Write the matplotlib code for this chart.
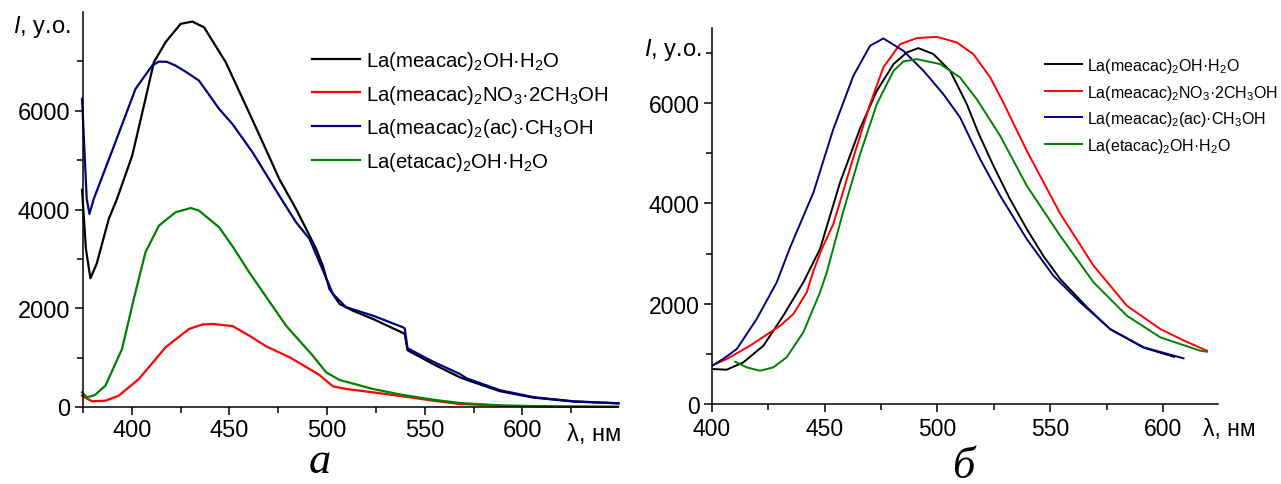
import matplotlib
matplotlib.use("Agg")
import matplotlib.pyplot as plt
from matplotlib.ticker import FixedLocator

# panel a (375-650 nm)
a_black_x = [374.5, 376.5, 378.8, 382, 388.2, 392.4, 400.2, 407, 411.3, 417.3, 425, 431, 437, 448.1,
             458.4, 467, 475.5, 484.1, 489.3, 494.4, 497.8, 501.2, 506.4, 513.2, 523.5, 538.9, 539.8,
             541.2, 554.3, 568, 571.5, 588.6, 605.7, 626.3, 649]
a_black_y = [4400, 3200, 2607, 2900, 3809, 4214, 5090, 6240, 6983, 7389, 7760, 7806, 7690, 6983,
             6105, 5363, 4619, 4011, 3606, 3201, 2863, 2391, 2087, 1951, 1783, 1499, 1470,
             1150, 870, 601, 550, 320, 190, 110, 75]

a_blue_x = [374.5, 376.9, 378.3, 380.5, 391.6, 401.9, 410.4, 413.9, 418, 422.4, 428, 434.4, 444.7,
            451.5, 461.8, 475.5, 484.1, 491, 496.1, 503, 509.8, 523.5, 538.9, 539.8, 541.2, 554.3,
            568, 571.5, 588.6, 605.7, 626.3, 649.4]
a_blue_y = [6240, 4214, 3910, 4214, 5363, 6443, 6915, 6996, 6990, 6915, 6780, 6611, 6037,
            5733, 5160, 4281, 3742, 3404, 2931, 2289, 2020, 1850, 1614, 1590, 1190, 918,
            669, 580, 340, 200, 115, 75]

a_red_x = [374.5, 379.6, 386.5, 393.3, 403.6, 417.3, 429.3, 436, 441.3, 451.5, 460, 468.7, 480.7,
           491, 496, 503, 509.8, 523.5, 538.9, 554.3, 568, 590, 620, 649]
a_red_y = [229, 115, 128, 229, 567, 1209, 1580, 1670, 1682, 1640, 1450, 1230, 1010,
           770, 650, 419, 365, 297, 216, 128, 61, 25, 8, 3]

a_green_x = [374.5, 377, 381, 386.5, 395, 401, 407, 413.9, 422.4, 430.2, 434.4, 444.7, 452, 460.1,
             479, 492.7, 499.5, 506.4, 523.5, 538.9, 554.3, 568, 590, 620, 649]
a_green_y = [298, 196, 240, 432, 1175, 2188, 3134, 3674, 3944, 4030, 3977, 3641, 3230, 2729,
             1647, 1039, 703, 547, 365, 243, 148, 81, 30, 10, 5]

# panel b (400-625 nm)
b_black_x = [400, 406.5, 413.9, 422.8, 431.6, 440.5, 447.9, 456.8, 465.7, 473.1, 480.5, 486.4, 491.5,
             498.2, 505.6, 513, 518, 524.8, 532, 539.6, 547, 554.4, 566.3, 576.6, 591.4, 605]
b_black_y = [698, 684, 831, 1163, 1761, 2427, 3091, 4421, 5500, 6247, 6780, 7013, 7099,
             6979, 6646, 5982, 5420, 4752, 4100, 3490, 2950, 2493, 1930, 1490, 1125, 940]

b_red_x = [400, 406.5, 416.9, 430.2, 436.1, 442, 445, 448.7, 453.8, 462.7, 470.1, 476, 483.4, 490.8,
           499.7, 508.6, 515.9, 523.4, 529, 539.6, 554.4, 569.2, 584, 598.8, 610, 619.5]
b_red_y = [764, 897, 1163, 1561, 1795, 2227, 2658, 3091, 3589, 4919, 5982, 6714, 7178, 7298,
           7324, 7212, 6979, 6514, 6030, 5050, 3800, 2758, 1960, 1496, 1250, 1063]

b_blue_x = [400, 405, 411, 419.8, 428.7, 434.6, 445, 453.8, 462.7, 470.1, 476, 484.9, 493.8, 502.6,
            510, 518.9, 527.8, 539.6, 551.4, 563.3, 576.6, 591.4, 609.1]
b_blue_y = [764, 900, 1097, 1695, 2427, 3120, 4221, 5484, 6546, 7145, 7292, 7045, 6646, 6181,
            5717, 4885, 4154, 3290, 2558, 2028, 1496, 1131, 911]

b_green_x = [410.2, 415.4, 421.3, 427.2, 433.1, 440.5, 447.9, 450.9, 458.3, 465.7, 473.1, 480.5,
             484.9, 490.8, 501.2, 510, 517.4, 527.8, 539.6, 554.4, 569.2, 584, 598.8, 616.5, 619.5]
b_green_y = [844, 731, 664, 731, 931, 1430, 2227, 2626, 3855, 4985, 5982, 6646,
             6833, 6879, 6780, 6514, 6081, 5350, 4353, 3356, 2427, 1761, 1330, 1063, 1043]

labels = [r"La(meacac)$_\mathregular{2}$OH·H$_\mathregular{2}$O",
          r"La(meacac)$_\mathregular{2}$NO$_\mathregular{3}$·2CH$_\mathregular{3}$OH",
          r"La(meacac)$_\mathregular{2}$(ac)·CH$_\mathregular{3}$OH",
          r"La(etacac)$_\mathregular{2}$OH·H$_\mathregular{2}$O"]
colors = ["black", "#ff0000", "#000080", "#008000"]

plt.rcParams["font.family"] = ["Liberation Sans", "DejaVu Sans"]
plt.rcParams["mathtext.fontset"] = "custom"
plt.rcParams["mathtext.rm"] = "Liberation Sans"
plt.rcParams["mathtext.it"] = "Liberation Sans:italic"

W, H = 1281, 485
fig = plt.figure(figsize=(W / 100, H / 100), dpi=100)
ax1 = fig.add_axes([83 / W, 1 - 408 / H, (618 - 83) / W, (408 - 13) / H])
ax2 = fig.add_axes([712 / W, 1 - 405 / H, (1218 - 712) / W, (405 - 29) / H])


def style(ax, xlim, ylim, xminor, fs):
    ax.set_xlim(*xlim)
    ax.set_ylim(*ylim)
    for s in ["top", "right"]:
        ax.spines[s].set_visible(False)
    for s in ["left", "bottom"]:
        ax.spines[s].set_linewidth(1.1)
    ax.yaxis.set_major_locator(FixedLocator([0, 2000, 4000, 6000]))
    ax.yaxis.set_minor_locator(FixedLocator([1000, 3000, 5000, 7000]))
    ax.xaxis.set_major_locator(FixedLocator([400, 450, 500, 550, 600]))
    ax.xaxis.set_minor_locator(FixedLocator(xminor))
    ax.tick_params(which="major", direction="out", length=6, width=1.1, labelsize=fs, pad=3)
    ax.tick_params(which="minor", direction="out", length=4, width=1.1)


# panel a
for xs, ys, c, lab in zip([a_black_x, a_red_x, a_blue_x, a_green_x],
                          [a_black_y, a_red_y, a_blue_y, a_green_y], colors, labels):
    ax1.plot(xs, ys, color=c, lw=1.6, label=lab, clip_on=False)
style(ax1, (375, 649), (0, 8000), [375, 425, 475, 525, 575, 625], 17)
ax1.legend(loc="upper left", bbox_to_anchor=(312 / W, 1 - 50 / H), bbox_transform=fig.transFigure,
           frameon=False, fontsize=14.7, handlelength=2.35, handletextpad=0.3,
           labelspacing=0.52, borderpad=0, borderaxespad=0)
ax1.text(-0.024, 0.965, r"$\mathit{I}$, у.о.", transform=ax1.transAxes, ha="right", va="center",
         fontsize=17)
fig.text(594 / W, 1 - 435 / H, "λ, нм", ha="center", va="center", fontsize=17)
fig.text(320 / W, 1 - 462 / H, "а", ha="center", va="center", fontsize=32,
         family="Liberation Serif", style="italic")

# panel b
for xs, ys, c, lab in zip([b_black_x, b_red_x, b_blue_x, b_green_x],
                          [b_black_y, b_red_y, b_blue_y, b_green_y], colors, labels):
    ax2.plot(xs, ys, color=c, lw=1.4, label=lab)
style(ax2, (400, 624.4), (0, 7500), [425, 475, 525, 575], 16.5)
ax2.legend(loc="upper left", bbox_to_anchor=(1045 / W, 1 - 57 / H), bbox_transform=fig.transFigure,
           frameon=False, fontsize=11.5, handlelength=2.3, handletextpad=0.35,
           labelspacing=0.47, borderpad=0, borderaxespad=0)
ax2.text(-0.02, 0.944, r"$\mathit{I}$, у.о.", transform=ax2.transAxes, ha="right", va="center",
         fontsize=17)
fig.text(1229 / W, 1 - 430 / H, "λ, нм", ha="center", va="center", fontsize=16.5)
fig.text(963 / W, 1 - 467 / H, "б", ha="center", va="center", fontsize=32,
         family="Liberation Serif", style="italic")

fig.savefig("out.png", dpi=100)
